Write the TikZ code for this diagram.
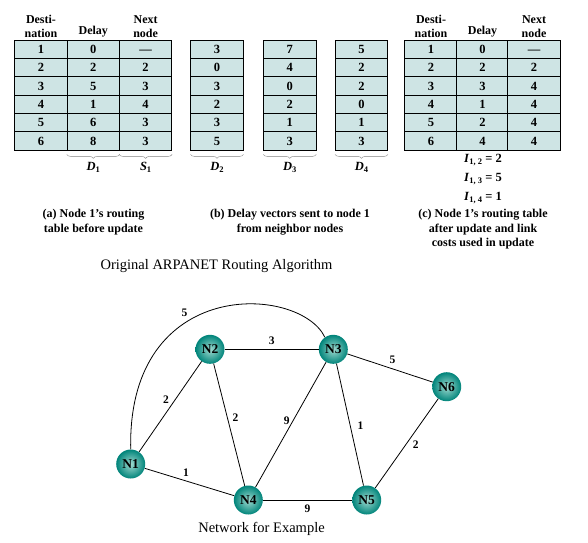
\documentclass[tikz,border=0pt]{standalone}
\usepackage{fontspec}
\setmainfont{Liberation Serif}
\usepackage{tikz}
\usetikzlibrary{positioning,decorations.pathreplacing}
\definecolor{cellfill}{RGB}{206,228,228}
\definecolor{nodein}{RGB}{160,218,208}
\definecolor{nodeout}{RGB}{0,132,122}
\newcommand{\vlab}[2]{\textbf{\textit{#1}}\raisebox{-0.35ex}{\fontsize{8.5}{8.5}\selectfont\bfseries #2}}
\tikzstyle{cell} = [rectangle, draw=black, line width=0.75pt, fill=cellfill, minimum width=52.3, minimum height=18.33,
    inner sep=0pt, text height=8.4pt, text depth=0pt, font=\bfseries\fontsize{12.5}{13}\selectfont]
\tikzstyle{head} = [align=center, inner sep=1pt, font=\bfseries\fontsize{12}{14}\selectfont]
\tikzstyle{caption} = [align=center, anchor=north, font=\bfseries\fontsize{12}{14.5}\selectfont]
\tikzstyle{title} = [font=\fontsize{14.5}{16}\selectfont]
\tikzstyle{brace} = [draw=gray, thin, decorate, decoration={brace, amplitude=4pt}]
\tikzstyle{bracelabel} = [midway, below=7pt, inner sep=1pt, font=\fontsize{12.5}{12.5}\selectfont]
\tikzstyle{router} = [circle, minimum size=29pt, inner sep=0pt, inner color=nodein, outer color=nodeout,
    font=\bfseries\fontsize{13.5}{13.5}\selectfont]
\tikzstyle{link} = [line width=0.8pt, black]
\tikzstyle{lbl} = [inner sep=1pt, font=\bfseries\fontsize{11.5}{11.5}\selectfont]

\begin{document}
\begin{tikzpicture}[x=1pt, y=-1pt]
\useasboundingbox (0,0) rectangle (588,542);

% (a) routing table before update
\foreach \dst/\dly/\nxt [count=\r] in {1/0/---, 2/2/2, 3/5/3, 4/1/4, 5/6/3, 6/8/3} {
    \node (a\r-1) [cell] at (41, {30.87+18.33*\r}) {\dst};
    \node (a\r-2) [cell] at (93.3, {30.87+18.33*\r}) {\dly};
    \node (a\r-3) [cell] at (145.6, {30.87+18.33*\r}) {\nxt};
}
\node (ha1) [head, anchor=south, above=1pt of a1-1] {Desti-\\nation};
\node (ha2) [head, anchor=south, above=1pt of a1-2] {Delay};
\node (ha3) [head, anchor=south, above=1pt of a1-3] {Next\\node};

% (b) delay vectors
\foreach \v [count=\r] in {3,0,3,2,3,5}
    \node (dtwo\r) [cell] at (217, {30.87+18.33*\r}) {\v};
\foreach \v [count=\r] in {7,4,0,2,1,3}
    \node (dthree\r) [cell] at (289.8, {30.87+18.33*\r}) {\v};
\foreach \v [count=\r] in {5,2,2,0,1,3}
    \node (dfour\r) [cell] at (361.5, {30.87+18.33*\r}) {\v};

% (c) routing table after update
\foreach \dst/\dly/\nxt [count=\r] in {1/0/---, 2/2/2, 3/3/4, 4/1/4, 5/2/4, 6/4/4} {
    \node (c\r-1) [cell] at (431, {30.87+18.33*\r}) {\dst};
    \node (c\r-2) [cell] at (482.5, {30.87+18.33*\r}) {\dly};
    \node (c\r-3) [cell] at (534, {30.87+18.33*\r}) {\nxt};
}
\node (hc1) [head, anchor=south, above=1pt of c1-1] {Desti-\\nation};
\node (hc2) [head, anchor=south, above=1pt of c1-2] {Delay};
\node (hc3) [head, anchor=south, above=1pt of c1-3] {Next\\node};

% braces under the vectors
\draw [brace] ([yshift=-4pt]a6-2.south east) -- node[bracelabel] {\vlab{D}{1}} ([yshift=-4pt]a6-2.south west);
\draw [brace] ([yshift=-4pt]a6-3.south east) -- node[bracelabel] {\vlab{S}{1}} ([yshift=-4pt]a6-3.south west);
\draw [brace] ([yshift=-4pt]dtwo6.south east) -- node[bracelabel] {\vlab{D}{2}} ([yshift=-4pt]dtwo6.south west);
\draw [brace] ([yshift=-4pt]dthree6.south east) -- node[bracelabel] {\vlab{D}{3}} ([yshift=-4pt]dthree6.south west);
\draw [brace] ([yshift=-4pt]dfour6.south east) -- node[bracelabel] {\vlab{D}{4}} ([yshift=-4pt]dfour6.south west);

% link costs
\node (ione) [font=\fontsize{12.5}{12.5}\selectfont] at (483, 160) {\vlab{I}{1, 2} \textbf{= 2}};
\node (itwo) [font=\fontsize{12.5}{12.5}\selectfont] at (483, 179) {\vlab{I}{1, 3} \textbf{= 5}};
\node (ithree) [font=\fontsize{12.5}{12.5}\selectfont] at (483, 198) {\vlab{I}{1, 4} \textbf{= 1}};

% captions
\node (capa) [caption] at (93.5, 206) {(a) Node 1's routing\\table before update};
\node (capb) [caption] at (290, 206) {(b) Delay vectors sent to node 1\\from neighbor nodes};
\node (capc) [caption] at (483, 206) {(c) Node 1's routing table\\after update and link\\costs used in update};
\node (algo) [title] at (216.5, 266) {Original ARPANET Routing Algorithm};

% network
\node (N1) [router] at (130.7, 464) {N1};
\node (N2) [router] at (210, 349.3) {N2};
\node (N3) [router] at (333.3, 349.3) {N3};
\node (N4) [router] at (248.3, 500) {N4};
\node (N5) [router] at (366.7, 500) {N5};
\node (N6) [router] at (446.7, 386.7) {N6};

\draw [link] (N1.north) .. controls (127,275) and (300,285) .. node[lbl, pos=0.4, above left=2pt] {5} (N3.125);
\draw [link] (N1) -- node[lbl, pos=0.58, left=5pt] {2} (N2);
\draw [link] (N2) -- node[lbl, above=3pt] {3} (N3);
\draw [link] (N3) -- node[lbl, pos=0.53, above=4pt] {5} (N6);
\draw [link] (N2) -- node[lbl, pos=0.44, right=4pt] {2} (N4);
\draw [link] (N3) -- node[lbl, pos=0.47, left=2pt] {9} (N4);
\draw [link] (N3) -- node[lbl, pos=0.51, right=6pt] {1} (N5);
\draw [link] (N5) -- node[lbl, pos=0.48, right=6pt] {2} (N6);
\draw [link] (N1) -- node[lbl, pos=0.46, above=3pt] {1} (N4);
\draw [link] (N4) -- node[lbl, below=3pt] {9} (N5);

\node (nettitle) [title] at (261.5, 529) {Network for Example};
\end{tikzpicture}
\end{document}
